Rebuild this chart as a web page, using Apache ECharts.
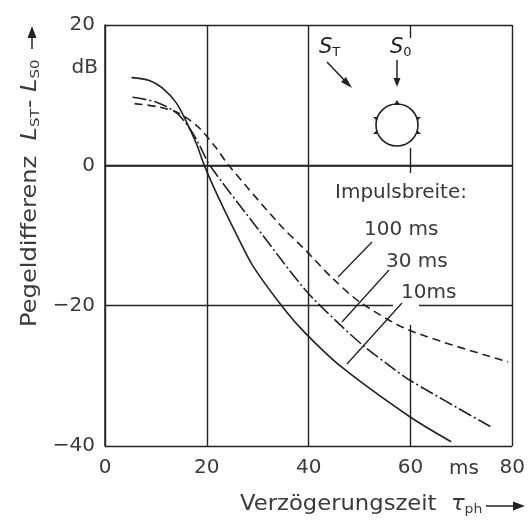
<!DOCTYPE html>
<html>
<head>
<meta charset="utf-8">
<script src="https://cdn.jsdelivr.net/npm/echarts@6/dist/echarts.min.js"></script>
<style>
  html, body { margin: 0; padding: 0; background: #fff; }
  #chart { width: 528px; height: 521px; }
</style>
</head>
<body>
<div id="chart"></div>
<script>
// Level difference L_ST - L_S0 (dB) against delay time tau_ph (ms), per pulse width
const delay10 = [5.2, 8.7, 11.3, 14.0, 16.0, 18.0, 19.5, 22.3, 26.2, 29.1, 35.0, 39.2, 46.4, 59.8, 68.0];
const level10 = [12.5, 12.1, 11.0, 8.9, 6.2, 3.0, 0, -4.6, -10.4, -14.4, -20.3, -23.8, -28.7, -35.8, -39.4];

const delay30 = [5.4, 10.1, 14.0, 16.5, 18.4, 20.6, 30.5, 39.4, 46.0, 50.9, 56.7, 59.8, 76.1];
const level30 = [9.7, 9.0, 7.5, 5.4, 3.1, 0, -9.5, -17.8, -22.6, -25.8, -29.0, -30.6, -37.4];

const delay100 = [5.8, 10.7, 14.6, 18.4, 21.7, 24.3, 34.4, 39.4, 44.7, 50.1, 59.8, 79.2];
const level100 = [8.8, 8.3, 7.4, 5.4, 2.6, 0, -8.5, -12.1, -16.1, -19.5, -23.5, -28.0];

const xTicks = [0, 20, 40, 60, 80];
const yTicks = [-40, -20, 0, 20];
const pulseLabels = ['100 ms', '30 ms', '10ms'];

const ink = '#222';
const textInk = '#3a3a3a';
const font = 'DejaVu Sans';

const toPairs = (xs, ys) => xs.map((x, i) => [x, ys[i]]);

const chart = echarts.init(document.getElementById('chart'), null, { renderer: 'canvas' });

const curveStyle = (type) => ({ color: ink, width: 1.6, type: type });

const curve = (name, xs, ys, type) => ({
  name: name, type: 'line', data: toPairs(xs, ys),
  smooth: 0.3,
  showSymbol: false, lineStyle: curveStyle(type), z: 3
});

const option = {
  animation: false,
  backgroundColor: '#fff',
  grid: { left: 105, right: 11, top: 25, bottom: 75 },
  xAxis: {
    type: 'value',
    min: xTicks[0], max: xTicks[xTicks.length - 1], interval: xTicks[1] - xTicks[0],
    axisLine: { show: true, lineStyle: { color: ink, width: 1.5 } },
    axisTick: { show: false },
    splitLine: { show: true, lineStyle: { color: ink, width: 1.4 } },
    axisLabel: { fontSize: 20, color: textInk, fontFamily: font, margin: 12,
      formatter: v => xTicks.includes(v) ? String(v) : '' }
  },
  yAxis: {
    type: 'value',
    min: yTicks[0], max: yTicks[yTicks.length - 1], interval: yTicks[1] - yTicks[0],
    axisLine: { show: true, lineStyle: { color: ink, width: 1.5 } },
    axisTick: { show: false },
    splitLine: { show: true, lineStyle: { color: ink, width: 1.4 } },
    axisLabel: { fontSize: 20, color: textInk, fontFamily: font, margin: 10,
      formatter: v => String(v).replace('-', '\u2212') }
  },
  series: [
    curve(pulseLabels[2], delay10, level10, 'solid'),
    curve(pulseLabels[1], delay30, level30, [14, 3, 2, 3]),
    curve(pulseLabels[0], delay100, level100, [8, 5])
  ],
  graphic: [
    // gaps in the grid behind the inset and the pulse-width legend
    { type: 'rect', z: 1, shape: { x: 406, y: 38, width: 14, height: 110 }, style: { fill: '#fff' } },
    { type: 'rect', z: 1, shape: { x: 407, y: 173, width: 12, height: 152 }, style: { fill: '#fff' } },
    { type: 'rect', z: 1, shape: { x: 393, y: 300, width: 22, height: 10 }, style: { fill: '#fff' } },

    // unit labels
    { type: 'text', z: 10, x: 98, y: 68, style: { text: 'dB', font: '20px ' + font, fill: textInk,
      textAlign: 'right', textVerticalAlign: 'middle' } },
    { type: 'text', z: 10, x: 464, y: 469, style: { text: 'ms', font: '20px ' + font, fill: textInk,
      textAlign: 'center', textVerticalAlign: 'middle' } },

    // x axis title
    { type: 'text', z: 10, x: 240, y: 505, scaleX: 1.08, style: {
      text: 'Verzögerungszeit  {t|τ}{s|ph}', font: '21px ' + font, fill: textInk,
      textVerticalAlign: 'middle',
      rich: { t: { font: 'italic 21px ' + font, fill: textInk },
              s: { font: '13px ' + font, fill: textInk, padding: [10, 0, 0, 0] } } } },
    { type: 'line', z: 10, shape: { x1: 486, y1: 506, x2: 518, y2: 506 }, style: { stroke: ink, lineWidth: 1.5 } },
    { type: 'polygon', z: 10, shape: { points: [[525, 506], [513, 501.5], [513, 510.5]] }, style: { fill: ink } },

    // y axis title
    { type: 'text', z: 10, x: 31, y: 327, rotation: Math.PI / 2, scaleX: 1.15, style: {
      text: 'Pegeldifferenz  {l|L}{s|ST}{n|-} {l|L}{s|S0}', font: '21px ' + font, fill: textInk,
      textAlign: 'left', textVerticalAlign: 'middle',
      rich: { l: { font: 'italic 21px ' + font, fill: textInk },
              n: { font: '21px ' + font, fill: textInk },
              s: { font: '13px ' + font, fill: textInk, padding: [10, 0, 0, 0] } } } },
    { type: 'line', z: 10, shape: { x1: 32, y1: 49, x2: 32, y2: 34 }, style: { stroke: ink, lineWidth: 1.5 } },
    { type: 'polygon', z: 10, shape: { points: [[32, 26], [27.5, 38], [36.5, 38]] }, style: { fill: ink } },

    // inset: head with sources S_T and S_0
    { type: 'text', z: 10, x: 319, y: 48, style: { text: '{a|S}{b|T}', font: '21px ' + font, fill: ink,
      textVerticalAlign: 'middle',
      rich: { a: { font: 'italic 21px ' + font, fill: ink }, b: { font: '13px ' + font, fill: ink, padding: [10, 0, 0, 0] } } } },
    { type: 'text', z: 10, x: 390, y: 48, style: { text: '{a|S}{b|0}', font: '21px ' + font, fill: ink,
      textVerticalAlign: 'middle',
      rich: { a: { font: 'italic 21px ' + font, fill: ink }, b: { font: '13px ' + font, fill: ink, padding: [10, 0, 0, 0] } } } },
    { type: 'line', z: 10, shape: { x1: 327, y1: 62, x2: 347, y2: 83 }, style: { stroke: ink, lineWidth: 1.5 } },
    { type: 'polygon', z: 10, shape: { points: [[352, 88], [341, 82], [346, 77]] }, style: { fill: ink } },
    { type: 'line', z: 10, shape: { x1: 397, y1: 60, x2: 397, y2: 80 }, style: { stroke: ink, lineWidth: 1.5 } },
    { type: 'polygon', z: 10, shape: { points: [[397, 87], [393.5, 78], [400.5, 78]] }, style: { fill: ink } },
    { type: 'circle', z: 10, shape: { cx: 397, cy: 125, r: 21 }, style: { fill: 'none', stroke: ink, lineWidth: 1.6 } },
    { type: 'polygon', z: 10, shape: { points: [[397, 100], [394, 105], [400, 105]] }, style: { fill: ink } },
    { type: 'polygon', z: 10, shape: { points: [[373, 117], [377, 117], [377, 121]] }, style: { fill: ink } },
    { type: 'polygon', z: 10, shape: { points: [[373, 134], [377, 130], [377, 134]] }, style: { fill: ink } },
    { type: 'polygon', z: 10, shape: { points: [[421, 117], [417, 117], [417, 121]] }, style: { fill: ink } },
    { type: 'polygon', z: 10, shape: { points: [[421, 134], [417, 130], [417, 134]] }, style: { fill: ink } },

    // pulse-width legend with leader lines
    { type: 'text', z: 10, x: 335, y: 193, style: { text: 'Impulsbreite:', font: '20px ' + font, fill: textInk,
      textVerticalAlign: 'middle' } },
    { type: 'text', z: 10, x: 364, y: 230, style: { text: pulseLabels[0], font: '20px ' + font, fill: textInk,
      textVerticalAlign: 'middle' } },
    { type: 'text', z: 10, x: 386, y: 262, style: { text: pulseLabels[1], font: '20px ' + font, fill: textInk,
      textVerticalAlign: 'middle' } },
    { type: 'text', z: 10, x: 401, y: 293, style: { text: pulseLabels[2], font: '20px ' + font, fill: textInk,
      textVerticalAlign: 'middle' } },
    { type: 'line', z: 10, shape: { x1: 338, y1: 277, x2: 372, y2: 242 }, style: { stroke: ink, lineWidth: 1.3 } },
    { type: 'line', z: 10, shape: { x1: 342, y1: 322, x2: 389, y2: 270 }, style: { stroke: ink, lineWidth: 1.3 } },
    { type: 'line', z: 10, shape: { x1: 347, y1: 364, x2: 402, y2: 303 }, style: { stroke: ink, lineWidth: 1.3 } }
  ]
};

chart.setOption(option);
</script>
</body>
</html>
